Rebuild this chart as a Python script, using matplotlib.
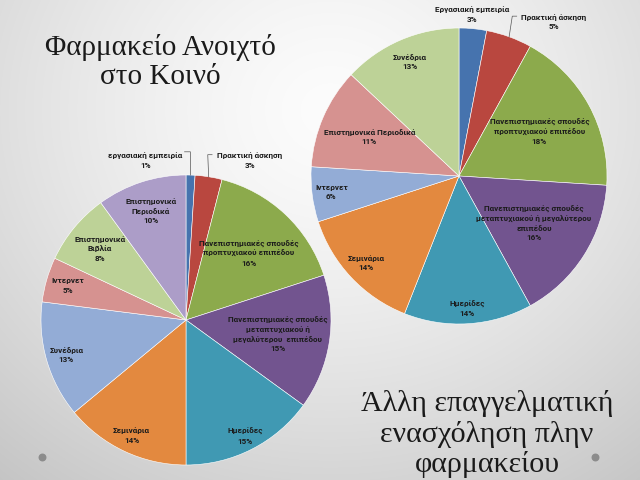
import numpy as np
import matplotlib
matplotlib.use("Agg")
import matplotlib.pyplot as plt

# -------------------------------------------
# Data
# -------------------------------------------

left_labels = ["εργασιακή εμπειρία", "Πρακτική άσκηση",
               "Πανεπιστημιακές σπουδές\nπροπτυχιακού επιπέδου",
               "Πανεπιστημιακές σπουδές\nμεταπτυχιακού ή\nμεγαλύτερου  επιπέδου",
               "Ημερίδες", "Σεμινάρια", "Συνέδρια", "Ιντερνετ",
               "Επιστημονικά\nΒιβλία", "Επιστημονικά\nΠεριοδικά"]
left_values = [1, 3, 16, 15, 15, 14, 13, 5, 8, 10]

right_labels = ["Εργασιακή εμπειρία", "Πρακτική άσκηση",
                "Πανεπιστημιακές σπουδές\nπροπτυχιακού επιπέδου",
                "Πανεπιστημιακές σπουδές\nμεταπτυχιακού ή μεγαλύτερου\nεπιπέδου",
                "Ημερίδες", "Σεμινάρια", "Ιντερνετ",
                "Επιστημονικά Περιοδικά", "Συνέδρια"]
right_values = [3, 5, 18, 16, 14, 14, 6, 11, 13]

title_left = "Φαρμακείο Ανοιχτό\nστο Κοινό"
title_right = "Άλλη επαγγελματική\nενασχόληση πλην\nφαρμακείου"

# -------------------------------------------
# Styles / layout
# -------------------------------------------

BLUE, RED, GREEN, PURPLE = "#4673AE", "#B9473F", "#8CAA4C", "#72548F"
AQUA, ORANGE = "#4099B3", "#E3893F"
LBLUE, PINK, LGREEN, LPURPLE = "#93ACD6", "#D69290", "#BDD297", "#AC9DC8"

left_colors = [BLUE, RED, GREEN, PURPLE, AQUA, ORANGE, LBLUE, PINK, LGREEN, LPURPLE]
right_colors = [BLUE, RED, GREEN, PURPLE, AQUA, ORANGE, LBLUE, PINK, LGREEN]

# label distance (fraction of radius) for the inner labels
left_dist = [None, None, 0.63, 0.64, 0.9, 0.88, 0.86, 0.85, 0.77, 0.79]
right_dist = [None, None, 0.62, 0.6, 0.9, 0.86, 0.87, 0.66, 0.84]

LABEL_FONT = dict(family=["Roboto", "DejaVu Sans"], fontweight="bold",
                  fontsize=5.9, color="#1c1c1c", linespacing=1.4)
TITLE_FONT = dict(family=["Liberation Serif", "DejaVu Serif"],
                  color="#1a1a1a", linespacing=1.15)

W, H = 640, 480


def pie_axes(fig, cx, cy, r):
    """Square axes (pixel coords) holding a unit pie."""
    ax = fig.add_axes([(cx - r) / W, (H - cy - r) / H, 2 * r / W, 2 * r / H])
    ax.axis("off")
    return ax


def draw_pie(ax, values, labels, colors, dists, outside):
    wedges, _ = ax.pie(values, colors=colors, startangle=90, counterclock=False,
                       radius=1.0, wedgeprops=dict(edgecolor="white", linewidth=0.4))
    ax.set_xlim(-1, 1)
    ax.set_ylim(-1, 1)
    total = float(sum(values))
    for w, v, lab, d in zip(wedges, values, labels, dists):
        txt = f"{lab}\n{round(100 * v / total)}%"
        mid = np.deg2rad((w.theta1 + w.theta2) / 2)
        if d is not None:
            ax.text(d * np.cos(mid), d * np.sin(mid), txt, ha="center",
                    va="center", **LABEL_FONT)
    # outside labels for the two small slices
    for idx, (tx, ty, leader) in outside.items():
        w = wedges[idx]
        mid = np.deg2rad((w.theta1 + w.theta2) / 2)
        lab = f"{labels[idx]}\n{round(100 * values[idx] / total)}%"
        ax.text(tx, ty, lab, ha="center", va="center", clip_on=False,
                **LABEL_FONT)
        if leader is not None:
            ex, ey = np.cos(mid), np.sin(mid)
            lx, ly, sx = leader
            ax.plot([ex, lx, sx], [ey, ly, ly], color="#555555", lw=0.5,
                    clip_on=False)


def main():
    fig = plt.figure(figsize=(6.4, 4.8), dpi=100)

    # background gradient
    bg = fig.add_axes([0, 0, 1, 1])
    yy, xx = np.mgrid[0:H, 0:W]
    d = np.hypot(xx - 330, (yy - 110) * 1.1) / 430
    g = np.clip(252 - 42 * d ** 1.4, 195, 252) / 255.0
    bg.imshow(np.dstack([g, g, g]), extent=[0, W, H, 0], aspect="auto")
    bg.scatter([42, 595], [457, 457], s=22, color="#8c8c8c", zorder=3)
    bg.set_xlim(0, W)
    bg.set_ylim(H, 0)
    bg.axis("off")

    # titles
    bg.text(160, 62, title_left, ha="center", va="center", fontsize=21, **TITLE_FONT)
    bg.text(487, 434, title_right, ha="center", va="center", fontsize=21.6, **TITLE_FONT)

    # left pie
    axl = pie_axes(fig, 186, 320, 145)
    out_l = {0: (-0.28, 1.10, (0.03, 1.16, -0.01)),
             1: (0.44, 1.10, (0.15, 1.14, 0.18))}
    draw_pie(axl, left_values, left_labels, left_colors, left_dist, out_l)

    # right pie
    axr = pie_axes(fig, 459, 176, 148)
    out_r = {0: (0.09, 1.09, None),
             1: (0.64, 1.04, (0.36, 1.08, 0.39))}
    draw_pie(axr, right_values, right_labels, right_colors, right_dist, out_r)

    fig.savefig("out.png", dpi=100)


if __name__ == "__main__":
    main()
